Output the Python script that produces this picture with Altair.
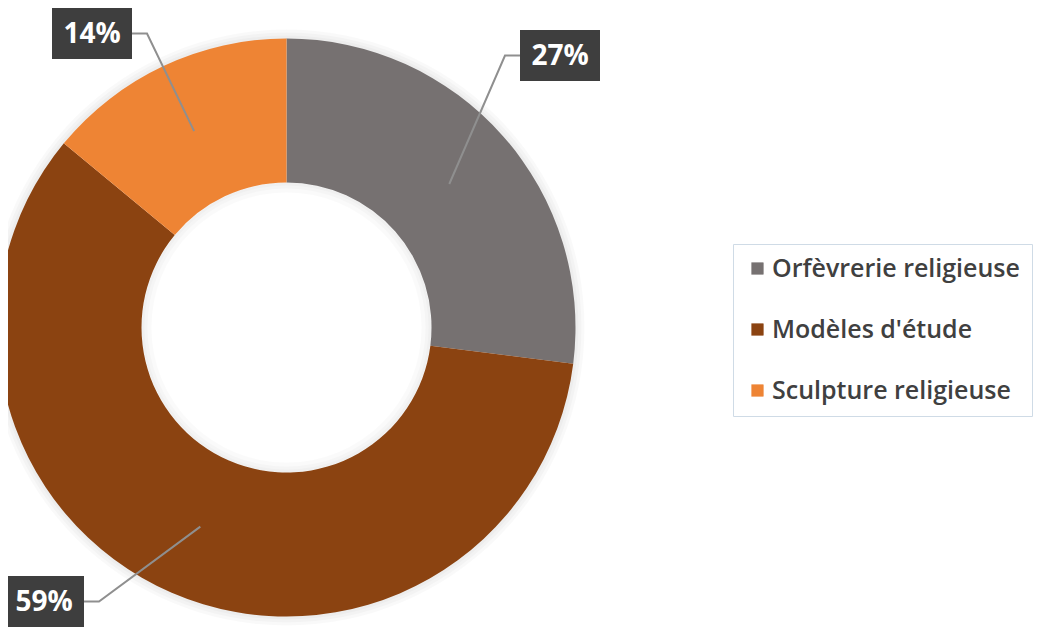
import math
import altair as alt
import pandas as pd

# ---- data ----
categories = ["Orfèvrerie religieuse", "Modèles d'étude", "Sculpture religieuse"]
values = [27, 59, 14]
labels = ["27%", "59%", "14%"]
colors = ["#767171", "#8B4311", "#EE8434"]

# ---- layout (chart pixel space) ----
W, H = 1030, 619
CX, CY = 278.5, 319.5
R_OUT, R_IN = 289, 145
R_MID = (R_OUT + R_IN) / 2
BOX_W, BOX_H = 80, 51
box_centers = [(552, 47.5), (36, 593.5), (84, 25.5)]
ELBOW = 15

df = pd.DataFrame({"category": categories, "value": values,
                   "label": labels, "idx": list(range(len(values)))})

total = float(sum(values))
rows_box, rows_line = [], []
cum = 0.0
for i, v in enumerate(values):
    mid = (cum + v / 2) / total * 2 * math.pi
    cum += v
    sx = CX + R_MID * math.sin(mid)
    sy = CY - R_MID * math.cos(mid)
    bx, by = box_centers[i]
    if bx < CX:
        side = bx + BOX_W / 2
        elbow = side + ELBOW
    else:
        side = bx - BOX_W / 2
        elbow = side - ELBOW
    rows_box.append({"label": labels[i], "bx": bx, "by": by,
                     "x1": bx - BOX_W / 2, "x2": bx + BOX_W / 2,
                     "y1": by - BOX_H / 2, "y2": by + BOX_H / 2})
    for s, (px, py) in enumerate([(side, by), (elbow, by), (sx, sy)]):
        rows_line.append({"label": labels[i], "seq": s, "x": px, "y": py})

boxes = pd.DataFrame(rows_box)
lines = pd.DataFrame(rows_line)

xs = alt.Scale(domain=[0, W], nice=False, zero=False)
ys = alt.Scale(domain=[0, H], reverse=True, nice=False, zero=False)

one = alt.Data(values=[{"k": 1}])

def ring(r_in, r_out, color, op):
    return alt.Chart(one).mark_arc(
        innerRadius=r_in, outerRadius=r_out, theta=0, theta2=2 * math.pi,
        color=color, opacity=op
    ).encode(x=alt.value(CX), y=alt.value(CY))

shadows = [ring(R_OUT - 2, R_OUT + k, "#000000", 0.025) for k in (3, 6, 9)]

donut = alt.Chart(df).mark_arc(outerRadius=R_OUT, innerRadius=R_IN).encode(
    theta=alt.Theta("value:Q", stack=True),
    color=alt.Color(
        "category:N",
        scale=alt.Scale(domain=categories, range=colors),
        sort=categories,
        legend=alt.Legend(
            orient="none", legendX=725, legendY=236, title=None,
            symbolType="square", symbolSize=150, symbolStrokeWidth=0,
            labelFont="Open Sans", labelFontSize=25, labelFontWeight=600,
            labelColor="#404040", labelOffset=2, rowPadding=35,
            padding=12, strokeColor="#cfdbe6", fillColor="white",
            labelLimit=400,
        ),
    ),
    order=alt.Order("idx:Q"),
    x=alt.value(CX), y=alt.value(CY),
)

inner_shade = [ring(R_IN - k, R_IN, "#000000", 0.02) for k in (3, 6, 10)]

leaders = alt.Chart(lines).mark_line(color="#8f8f8f", strokeWidth=2).encode(
    x=alt.X("x:Q", scale=xs, axis=None),
    y=alt.Y("y:Q", scale=ys, axis=None),
    detail="label:N",
    order="seq:Q",
)

box_shadow = alt.Chart(boxes).mark_rect(color="#000000", opacity=0.15,
                                        xOffset=3, yOffset=3).encode(
    x=alt.X("x1:Q", scale=xs, axis=None), x2="x2:Q",
    y=alt.Y("y1:Q", scale=ys, axis=None), y2="y2:Q",
)

box = alt.Chart(boxes).mark_rect(color="#3e3e3e").encode(
    x=alt.X("x1:Q", scale=xs, axis=None), x2="x2:Q",
    y=alt.Y("y1:Q", scale=ys, axis=None), y2="y2:Q",
)

text = alt.Chart(boxes).mark_text(
    color="white", font="Open Sans", fontWeight="bold", fontSize=28,
    baseline="middle", align="center", dy=1,
).encode(
    x=alt.X("bx:Q", scale=xs, axis=None),
    y=alt.Y("by:Q", scale=ys, axis=None),
    text="label:N",
)

chart = alt.layer(*shadows, donut, *inner_shade, leaders, box_shadow, box, text).properties(
    width=W, height=H, padding=0,
    autosize=alt.AutoSizeParams(type="none"),
    background="white",
).configure_view(stroke=None)

chart.save("out.html", embed_options={"renderer": "svg", "actions": False})
